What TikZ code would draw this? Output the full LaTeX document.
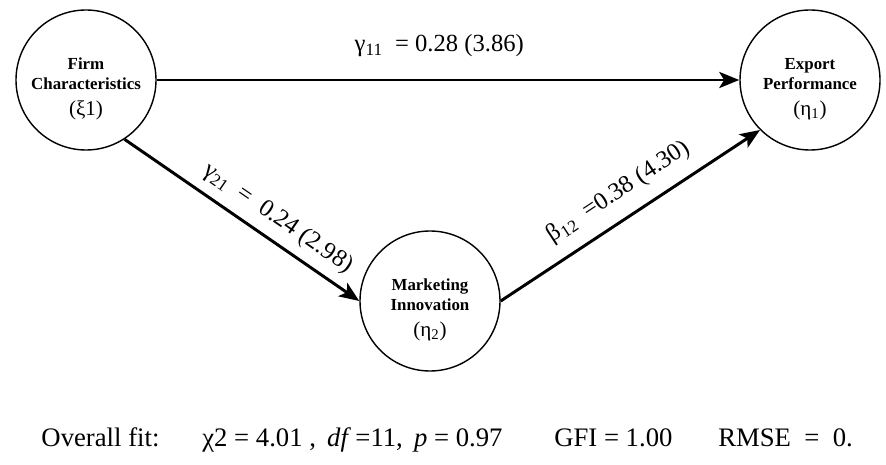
\documentclass[tikz,border=0pt]{standalone}
\usepackage{fontspec}
\setmainfont{Liberation Serif}
\usepackage{tikz}
\usetikzlibrary{arrows.meta, positioning}
\newcommand{\idxfont}{\fontsize{15}{16}\selectfont\mdseries}
\newcommand{\toprule}{\rule{0pt}{21pt}}

\begin{document}
\begin{tikzpicture}[
  latent/.style={circle, draw=black, line width=1pt, minimum size=3.5cm,
    inner sep=0pt, align=center, font=\fontsize{12}{14}\selectfont\bfseries},
  path/.style={-{Stealth[length=5mm, width=4mm, inset=1.2mm]}, line width=2.1pt, black},
  coef/.style={font=\fontsize{17.5}{20}\selectfont, inner sep=1pt},
  fittxt/.style={anchor=base west, font=\fontsize{19}{22}\selectfont, inner sep=0pt},
]
  \useasboundingbox (0,0) rectangle (22.15,11.6);
  \clip (0,0) rectangle (22.15,11.6);

  \node[latent] (firm) at (2.15,9.6) {\toprule Firm\\Characteristics\\[4.4pt]{\idxfont(ξ1)}};
  \node[latent] (export) at (20.25,9.6) {\toprule Export\\Performance\\[4.4pt]{\idxfont(η\textsubscript{1})}};
  \node[latent] (mkt) at (10.75,4.075) {\toprule Marketing\\Innovation\\[4.4pt]{\idxfont(η\textsubscript{2})}};

  \draw[path] (firm) -- node[coef, above=0.5cm, pos=0.485] (g11)
    {γ\textsubscript{11}\enspace = 0.28 (3.86)} (export);
  \draw[path] (firm.-57) -- node[coef, sloped, above=0.2cm, pos=0.6] (g21)
    {γ\textsubscript{21}\enspace = \ 0.24 (2.98)} (mkt.west);
  \draw[path] (mkt.east) -- node[coef, sloped, above=0.3cm, pos=0.51] (b12)
    {β\textsubscript{12}\enspace =0.38 (4.30)} (export.-135);

  % fit indices
  \node[fittxt] (fit) at (1.03,0.43) {Overall fit:};
  \node[fittxt] (chi) at (5.05,0.43) {χ2 = 4.01 ,\, \textit{df}\,=11,\, \textit{p} = 0.97};
  \node[fittxt] (gfi) at (13.85,0.43) {GFI = 1.00};
  \node[fittxt] (rmse) at (17.95,0.43) {RMSE\enspace=\enspace0.};
\end{tikzpicture}
\end{document}
